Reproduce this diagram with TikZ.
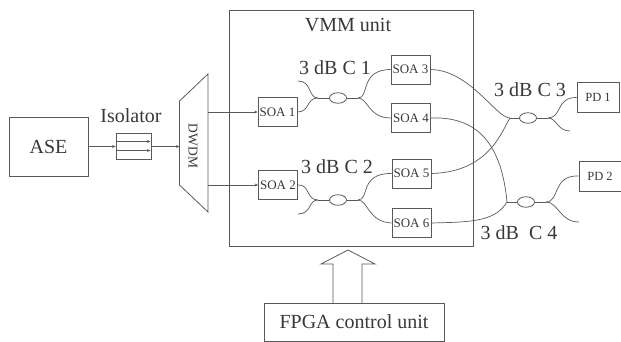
\documentclass[tikz,border=0pt]{standalone}
\usepackage{fontspec}
\setmainfont{Liberation Serif}
\usepackage{tikz}
\usetikzlibrary{arrows.meta,calc,shapes.geometric}
\definecolor{scanline}{gray}{0.35}
\definecolor{scantext}{gray}{0.22}

\begin{document}
\begin{tikzpicture}[
    x=1pt, y=-1pt,
    line width=0.8pt,
    color=scanline,
    box/.style={draw=scanline, rectangle, inner sep=0, text=scantext, font=\fontsize{20}{22}\selectfont},
    soabox/.style={box, minimum width=39pt, minimum height=29pt, font=\fontsize{13}{15}\selectfont},
    pdbox/.style={box, minimum width=42pt, minimum height=30pt, font=\fontsize{12.5}{15}\selectfont},
    coupler/.style={draw=scanline, ellipse, inner sep=0, minimum width=17pt, minimum height=10.5pt},
    label/.style={text=scantext, inner sep=0, font=\fontsize{20}{22}\selectfont},
    feed/.style={-{Stealth[length=3.5pt,width=3pt]}},
    fibre/.style={line width=0.7pt}]
\useasboundingbox (0,0) rectangle (621,342);

\node[box, minimum width=79pt, minimum height=59pt] (ase) at (48.5,146.5) {ASE};
\node[box, minimum width=35pt, minimum height=26pt] (iso) at (133.5,146) {};
\node[label] (isolabel) at (131,116) {Isolator};
\coordinate (dwdmin) at (179.5,146.5);
\coordinate (dwdmouta) at (208,112);
\coordinate (dwdmoutb) at (208,185);
\draw (179.5,101) -- (208,74) -- (208,212) -- (179.5,185) -- cycle;
\node[text=scantext, inner sep=0, rotate=-90, font=\fontsize{13.5}{15}\selectfont] (dwdm) at (193,146) {DWDM};

% isolator inside
\coordinate (isoa) at ($(iso.west)+(0,-4.5)$);
\coordinate (isob) at ($(iso.west)+(0,4.5)$);
\draw[feed] (isoa) -- ($(iso.east)+(-1,-4.5)$);
\draw[feed] (isob) -- ($(iso.east)+(-1,4.5)$);

\node[box, minimum width=243.5pt, minimum height=236pt] (vmm) at (351.25,128) {};
\node[label] (vmmlabel) at (348,25) {VMM unit};

\node[soabox] (soa1) at (277.5,112) {SOA 1};
\node[soabox] (soa2) at (278,185) {SOA 2};
\node[soabox] (soa3) at (410.5,69.5) {SOA 3};
\node[soabox] (soa4) at (411,118) {SOA 4};
\node[soabox] (soa5) at (411.5,173.5) {SOA 5};
\node[soabox] (soa6) at (411.5,223) {SOA 6};
\node[pdbox] (pd1) at (598,97.5) {PD 1};
\node[pdbox] (pd2) at (600,176) {PD 2};

\node[coupler] (cp1) at (338,98) {};
\node[coupler] (cp2) at (338,200) {};
\node[coupler] (cp3) at (528,118) {};
\node[coupler] (cp4) at (526,202) {};

\node[label] (cp1label) at (335,67.5) {3 dB C 1};
\node[label] (cp2label) at (337,167) {3 dB C 2};
\node[label] (cp3label) at (530,90) {3 dB C 3};
\node[label] (cp4label) at (519,233) {3 dB\hspace{0.25em} C 4};

\draw[feed] (ase.east) -- (iso.west |- ase.east);
\draw[feed] (iso.east |- ase.east) -- (dwdmin);
\draw[feed] (dwdmouta) -- (soa1.west);
\draw[feed] (dwdmoutb) -- (soa2.west);

% fibres, junctions left and right of the couplers
\coordinate (cp1l) at (318,98);
\coordinate (cp1r) at (358,98);
\coordinate (cp2l) at (318,200);
\coordinate (cp2r) at (358,200);
\coordinate (cp3l) at (510,118);
\coordinate (cp3r) at (548,118);
\coordinate (cp4l) at (507,202);
\coordinate (cp4r) at (546,202);
\coordinate (free1) at (298,81);
\coordinate (free2) at (298,214);
\coordinate (free3) at (570,131);
\coordinate (free4) at (579,222);

\draw[fibre] (cp1.west) -- (cp1l) (cp1.east) -- (cp1r);
\draw[fibre] (cp2.west) -- (cp2l) (cp2.east) -- (cp2r);
\draw[fibre] (cp3.west) -- (cp3l) (cp3.east) -- (cp3r);
\draw[fibre] (cp4.west) -- (cp4l) (cp4.east) -- (cp4r);

\draw[fibre] (cp1l) .. controls (308,98) and (312,81) .. (free1);
\draw[fibre] (cp1l) .. controls (306,98) and (310,112) .. (soa1.east);
\draw[fibre] (cp1r) .. controls (370,98) and (359,70) .. (soa3.west);
\draw[fibre] (cp1r) .. controls (368,98) and (368,118) .. (soa4.west);

\draw[fibre] (cp2l) .. controls (306,200) and (310,184) .. (soa2.east);
\draw[fibre] (cp2l) .. controls (308,200) and (312,214) .. (free2);
\draw[fibre] (cp2r) .. controls (370,200) and (359,173) .. (soa5.west);
\draw[fibre] (cp2r) .. controls (368,200) and (368,222) .. (soa6.west);

\draw[fibre] (soa3.east) .. controls (470,70) and (496,118) .. (cp3l);
\draw[fibre] (soa5.east) .. controls (490,172) and (502,130) .. (cp3l);
\draw[fibre] (soa4.east) .. controls (482,116) and (502,150) .. (cp4l);
\draw[fibre] (soa6.east) .. controls (470,222) and (495,222) .. (cp4l);

\draw[fibre] (cp3r) .. controls (562,118) and (556,97) .. (pd1.west);
\draw[fibre] (cp3r) .. controls (557,118) and (557,131) .. (free3);
\draw[fibre] (cp4r) .. controls (560,202) and (552,175) .. (pd2.west);
\draw[fibre] (cp4r) .. controls (558,202) and (560,222) .. (free4);

\node[box, minimum width=180pt, minimum height=38pt] (fpga) at (354,322) {FPGA control unit};
\coordinate (tip) at (348,250);
\draw (333,303) -- (333,264) -- (321,264) -- (tip) -- (375,264) -- (362,264) -- (362,303);

\end{tikzpicture}
\end{document}
